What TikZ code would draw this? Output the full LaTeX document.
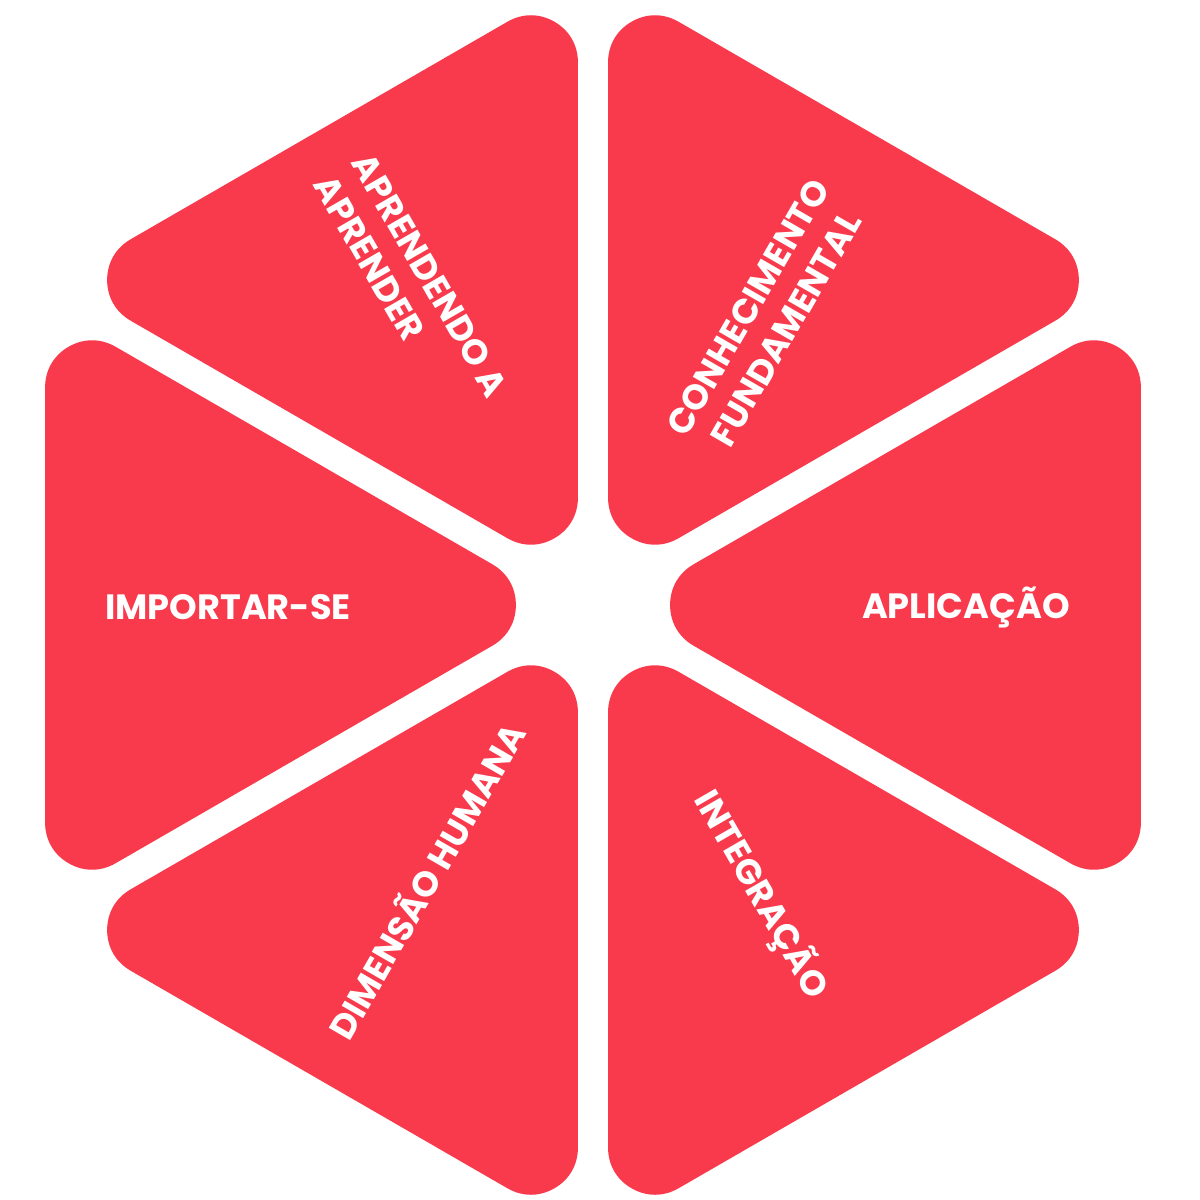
\documentclass[tikz,border=0pt]{standalone}
\usepackage{fontspec}
\newfontfamily\hexfont{Poppins}
\usepackage{tikz}
\definecolor{Coral}{HTML}{F83A4C}

\begin{document}
\begin{tikzpicture}[
  wedge/.style={fill=Coral,draw=Coral,line width=0.94cm,line join=round},
  tag/.style={text=white,inner sep=0pt,font=\hexfont\bfseries\fontsize{10}{12.5}\selectfont}
]
\useasboundingbox (-5.93,-5.95) rectangle (6.07,6.05);
% six rounded triangles round the centre
\foreach \a in {0,60,...,300} {
  \filldraw[wedge,shift={(\a:3.753)}] (\a+180:2.512) -- (\a+60:2.512) -- (\a-60:2.512) -- cycle;
}
\node[tag] (care) at (-3.65,-0.02) {IMPORTAR-SE};
\node[tag] (apply) at (3.73,-0.02) {APLICAÇÃO};
\node[tag,rotate=-60,align=left] (learn) at (-1.82,3.19) {APRENDENDO A\\APRENDER};
\node[tag,rotate=60,align=center] (know) at (1.74,2.87) {CONHECIMENTO\\FUNDAMENTAL};
\node[tag,rotate=60] (human) at (-1.68,-2.75) {DIMENSÃO HUMANA};
\node[tag,rotate=-60] (integ) at (1.68,-2.90) {INTEGRAÇÃO};
\end{tikzpicture}
\end{document}
